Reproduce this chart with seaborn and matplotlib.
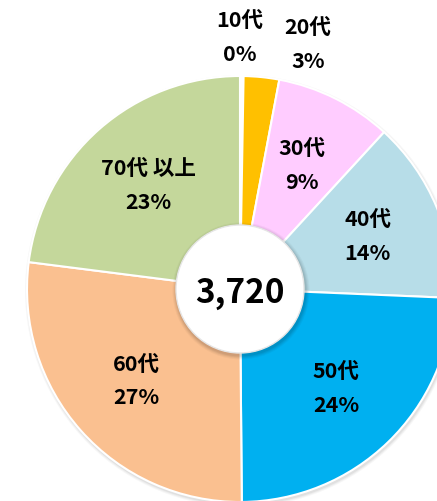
import numpy as np
import matplotlib
matplotlib.use('Agg')
import matplotlib.pyplot as plt
import matplotlib.patches as mpatches
import seaborn as sns

# data (counts, total 3,720)
age_groups = ['10代', '20代', '30代', '40代', '50代', '60代', '70代 以上']
counts = [10, 100, 330, 515, 900, 1010, 855]
colors = ['#FFFFFF', '#FFC000', '#FFCCFF', '#B7DDE8', '#00B0F0', '#FAC090', '#C4D79B']
total_label = '3,720'

sns.set_style('white')
plt.rcParams['font.family'] = ['Noto Sans CJK JP', 'DejaVu Sans']

W, H = 437, 501
fig = plt.figure(figsize=(W / 100, H / 100), dpi=100, facecolor='white')
ax = fig.add_axes([0, 0, 1, 1])

cx, cy = 240, H - 289
R = 213
r_in = 64

# faint shadow around the outer rim
for k, a in enumerate([0.05, 0.04, 0.03]):
    ax.add_patch(mpatches.Circle((cx + 1, cy - 2), R + 1 + k, color='black', alpha=a, lw=0, zorder=0))

wedges, _ = ax.pie(counts, colors=colors, startangle=90, counterclock=False,
                   center=(cx, cy), radius=R, frame=True,
                   wedgeprops=dict(edgecolor='white', linewidth=1.5))
ax.set_xlim(0, W)
ax.set_ylim(0, H)
ax.set_aspect('equal')
ax.axis('off')

# inner hole with soft shadow
for k, a in enumerate([0.06, 0.05, 0.04, 0.03]):
    ax.add_patch(mpatches.Circle((cx + 1, cy - 2), r_in + 1.5 + k, color='black', alpha=a, lw=0, zorder=3))
ax.add_patch(mpatches.Circle((cx, cy), r_in, facecolor='white', edgecolor='#E6E6E6', lw=1, zorder=4))
ax.text(cx, cy - 4, total_label, ha='center', va='center', fontsize=24, fontweight='bold',
        color='black', zorder=5)

# labels
pct = [c / sum(counts) * 100 for c in counts]
for i, (w, name) in enumerate(zip(wedges, age_groups)):
    mid = np.deg2rad((w.theta1 + w.theta2) / 2)
    dist = 0.65 * R
    if i == 0:
        mid, dist = np.deg2rad(90), 1.18 * R
    elif i == 1:
        mid, dist = np.deg2rad(90 - 15.5), 1.19 * R
    x = cx + dist * np.cos(mid)
    y = cy + dist * np.sin(mid)
    ax.text(x, y + 17, name, ha='center', va='center', fontsize=15.5, fontweight='bold',
            color='black', zorder=5)
    ax.text(x, y - 17, f'{pct[i]:.0f}%', ha='center', va='center', fontsize=15.5, fontweight='bold',
            color='black', zorder=5)

fig.savefig('out.png', dpi=100, facecolor='white')
